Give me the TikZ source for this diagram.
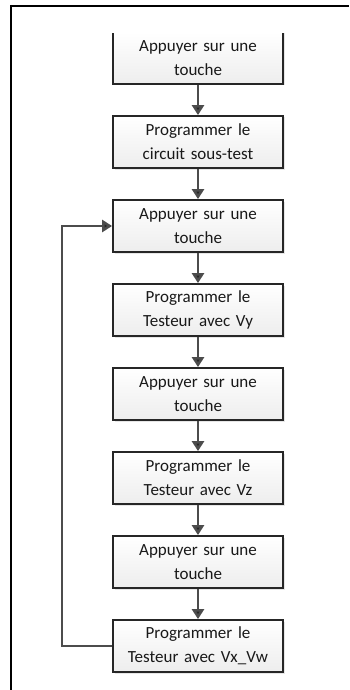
\documentclass[tikz,border=0pt]{standalone}
\usepackage{fontspec}
\setmainfont{Carlito}
\usetikzlibrary{arrows.meta,shadows}

\tikzset{
  boite/.style={draw=gray!30!black, line width=1.8pt, top color=white, bottom color=gray!14,
    minimum width=170pt, minimum height=52pt, text width=160pt, align=center,
    font=\fontsize{17}{24}\selectfont, text=gray!20!black,
    drop shadow={opacity=0.2, shadow xshift=1.5pt, shadow yshift=-1.5pt}},
  fleche/.style={draw=gray!60!black, line width=2.6pt,
    -{Triangle[length=10pt,width=12pt,fill=gray!30!black]}}
}

\begin{document}
\begin{tikzpicture}[x=1pt, y=-1pt]
    \useasboundingbox (0,0) rectangle (349,690);

    % CADRE
    \draw[line width=2.4pt] (10,6) -- (349,6);
    \draw[line width=2.4pt] (11,5) -- (11,690);

    % PREMIERE BOITE (bord haut coupe)
    \begin{scope}
        \clip (0,34) rectangle (349,690);
        \node[boite] (b1) at (198, 58) {Appuyer sur une\\touche};
    \end{scope}

    % AUTRES BOITES
    \foreach \i/\t in {2/{Programmer le\\circuit sous-test}, 3/{Appuyer sur une\\touche},
                       4/{Programmer le\\Testeur avec Vy}, 5/{Appuyer sur une\\touche},
                       6/{Programmer le\\Testeur avec Vz}, 7/{Appuyer sur une\\touche},
                       8/{Programmer le\\Testeur avec Vx\_Vw}} {
        \node[boite] (b\i) at (198, {58+84*(\i-1)}) {\t};
    }

    % FLECHES VERTICALES
    \foreach \i in {1,...,7} {
        \pgfmathtruncatemacro{\j}{\i+1}
        \draw[fleche] (b\i) -- (b\j);
    }

    % RETOUR DE LA BOUCLE
    \draw[fleche] (b8.west) -- (62, 646) -- (62, 226) -- (b3.west);

\end{tikzpicture}
\end{document}
